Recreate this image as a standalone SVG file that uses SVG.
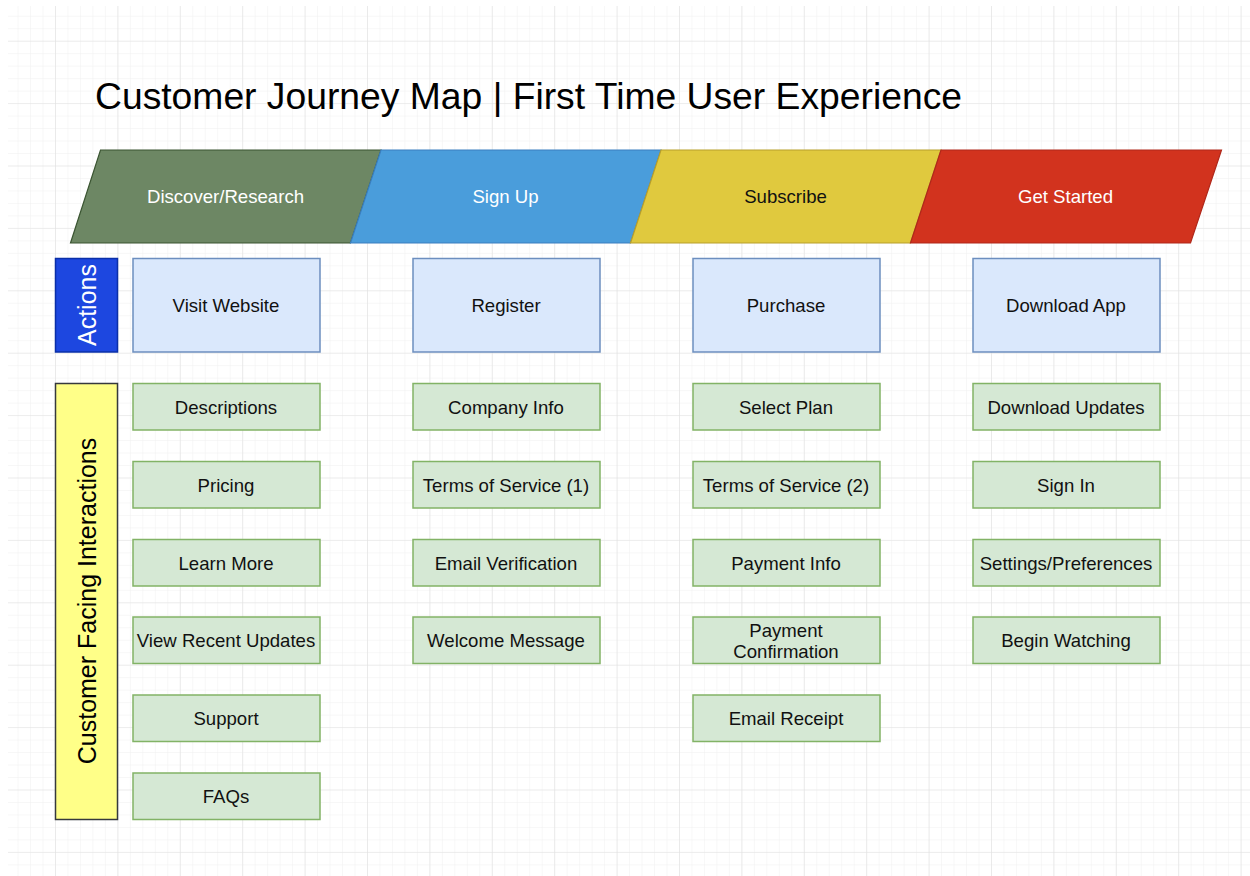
<svg xmlns="http://www.w3.org/2000/svg" width="1250" height="876" viewBox="0 0 1250 876">
<defs>
<pattern id="minor" x="-7.4" y="-21.7" width="12.48" height="12.48" patternUnits="userSpaceOnUse">
<path d="M0 0H12.48M0 0V12.48" fill="none" stroke="#efefef" stroke-width="1"/>
</pattern>
<pattern id="major" x="-7.4" y="-21.7" width="62.4" height="62.4" patternUnits="userSpaceOnUse">
<path d="M0 0H62.4M0 0V62.4" fill="none" stroke="#e2e2e2" stroke-width="1.2"/>
</pattern>
<style>
text{font-family:"Liberation Sans",Arial,Helvetica,sans-serif;text-anchor:middle;dominant-baseline:central}
.lbl{font-size:18.6px;fill:#111}
.ban{font-size:18.6px;fill:#fff}
.act rect{fill:#dae8fc;stroke:#6c8ebf;stroke-width:1.5}
.cfi rect{fill:#d5e8d4;stroke:#82b366;stroke-width:1.5}
</style>
</defs>
<rect x="0" y="0" width="1250" height="876" fill="#fff"/>
<rect x="8" y="6" width="1242" height="870" fill="url(#minor)"/>
<rect x="8" y="6" width="1242" height="870" fill="url(#major)"/>

<text x="95" y="96" textLength="867" lengthAdjust="spacingAndGlyphs" style="font-size:37px;text-anchor:start;fill:#000">Customer Journey Map | First Time User Experience</text>

<g id="stage-discover">
<polygon points="100.5,150 381,150 350.5,243 70.5,243" fill="#6d8764" stroke="#3a5431" stroke-width="1.2"/>
<text class="ban" x="225.5" y="196.5">Discover/Research</text>
</g>
<g id="stage-signup">
<polygon points="381,150 661,150 630.5,243 350.5,243" fill="#4a9ddb" stroke="#3a7fc0" stroke-width="1.2"/>
<text class="ban" x="505.5" y="196.5">Sign Up</text>
</g>
<g id="stage-subscribe">
<polygon points="661,150 941,150 910.5,243 630.5,243" fill="#e0c93e" stroke="#b89f2a" stroke-width="1.2"/>
<text x="785.5" y="196.5" style="font-size:18.6px;fill:#111">Subscribe</text>
</g>
<g id="stage-getstarted">
<polygon points="941,150 1221.5,150 1190.5,243 910.5,243" fill="#d2331e" stroke="#b0281a" stroke-width="1.2"/>
<text class="ban" x="1065.5" y="196.5">Get Started</text>
</g>

<g id="lane-actions">
<rect x="55.5" y="258.5" width="62" height="93.5" fill="#1d47e0" stroke="#0a2fa8" stroke-width="1.5"/>
<text x="86.5" y="305" transform="rotate(-90 86.5 305)" style="font-size:25px;fill:#fff">Actions</text>
</g>
<g id="lane-cfi">
<rect x="55.5" y="383.5" width="62" height="436" fill="#ffff88" stroke="#36393d" stroke-width="1.5"/>
<text x="86.5" y="601" transform="rotate(-90 86.5 601)" style="font-size:25px;fill:#000">Customer Facing Interactions</text>
</g>

<g class="act">
<g id="visit-website"><rect x="133" y="258.5" width="187" height="93.5"/><text class="lbl" x="226" y="305.5">Visit Website</text></g>
<g id="register"><rect x="413" y="258.5" width="187" height="93.5"/><text class="lbl" x="506" y="305.5">Register</text></g>
<g id="purchase"><rect x="693" y="258.5" width="187" height="93.5"/><text class="lbl" x="786" y="305.5">Purchase</text></g>
<g id="download-app"><rect x="973" y="258.5" width="187" height="93.5"/><text class="lbl" x="1066" y="305.5">Download App</text></g>
</g>

<g class="cfi">
<g id="descriptions"><rect x="133" y="383.5" width="187" height="46.5"/><text class="lbl" x="226" y="407">Descriptions</text></g>
<g id="pricing"><rect x="133" y="461.5" width="187" height="46.5"/><text class="lbl" x="226" y="485">Pricing</text></g>
<g id="learn-more"><rect x="133" y="539.5" width="187" height="46.5"/><text class="lbl" x="226" y="563">Learn More</text></g>
<g id="view-recent-updates"><rect x="133" y="617" width="187" height="46.5"/><text class="lbl" x="226" y="640.5">View Recent Updates</text></g>
<g id="support"><rect x="133" y="695" width="187" height="46.5"/><text class="lbl" x="226" y="718.5">Support</text></g>
<g id="faqs"><rect x="133" y="773" width="187" height="46.5"/><text class="lbl" x="226" y="796.5">FAQs</text></g>

<g id="company-info"><rect x="413" y="383.5" width="187" height="46.5"/><text class="lbl" x="506" y="407">Company Info</text></g>
<g id="tos-1"><rect x="413" y="461.5" width="187" height="46.5"/><text class="lbl" x="506" y="485">Terms of Service (1)</text></g>
<g id="email-verification"><rect x="413" y="539.5" width="187" height="46.5"/><text class="lbl" x="506" y="563">Email Verification</text></g>
<g id="welcome-message"><rect x="413" y="617" width="187" height="46.5"/><text class="lbl" x="506" y="640.5">Welcome Message</text></g>

<g id="select-plan"><rect x="693" y="383.5" width="187" height="46.5"/><text class="lbl" x="786" y="407">Select Plan</text></g>
<g id="tos-2"><rect x="693" y="461.5" width="187" height="46.5"/><text class="lbl" x="786" y="485">Terms of Service (2)</text></g>
<g id="payment-info"><rect x="693" y="539.5" width="187" height="46.5"/><text class="lbl" x="786" y="563">Payment Info</text></g>
<g id="payment-confirmation"><rect x="693" y="617" width="187" height="46.5"/><text class="lbl" x="786" y="630">Payment</text><text class="lbl" x="786" y="651">Confirmation</text></g>
<g id="email-receipt"><rect x="693" y="695" width="187" height="46.5"/><text class="lbl" x="786" y="718.5">Email Receipt</text></g>

<g id="download-updates"><rect x="973" y="383.5" width="187" height="46.5"/><text class="lbl" x="1066" y="407">Download Updates</text></g>
<g id="sign-in"><rect x="973" y="461.5" width="187" height="46.5"/><text class="lbl" x="1066" y="485">Sign In</text></g>
<g id="settings"><rect x="973" y="539.5" width="187" height="46.5"/><text class="lbl" x="1066" y="563">Settings/Preferences</text></g>
<g id="begin-watching"><rect x="973" y="617" width="187" height="46.5"/><text class="lbl" x="1066" y="640.5">Begin Watching</text></g>
</g>

<g id="connectors"></g>
</svg>
